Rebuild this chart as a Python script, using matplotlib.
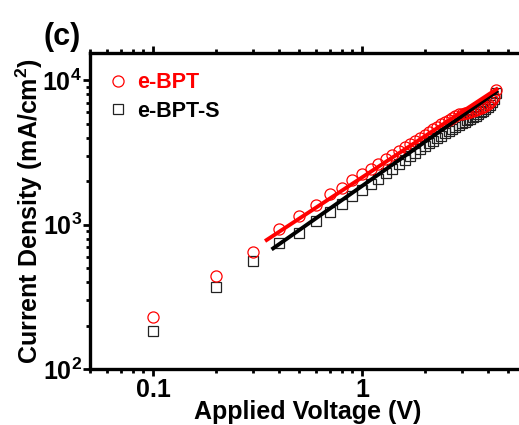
import numpy as np
import matplotlib
matplotlib.use("Agg")
import matplotlib.pyplot as plt
from matplotlib.ticker import FixedLocator, LogLocator, NullFormatter

# measured J-V points (V in volts, J in mA/cm^2)
voltage = [0.1, 0.2, 0.3, 0.4, 0.5, 0.6, 0.7, 0.8, 0.9, 1.0,
           1.1, 1.2, 1.3, 1.4, 1.5, 1.6, 1.7, 1.8, 1.9, 2.0,
           2.1, 2.2, 2.3, 2.4, 2.5, 2.6, 2.7, 2.8, 2.9, 3.0,
           3.1, 3.2, 3.3, 3.4, 3.5, 3.6, 3.7, 3.8, 3.9, 4.0,
           4.1, 4.2, 4.3, 4.4]
j_ebpt = [231, 443, 649, 931, 1150, 1371, 1633, 1790, 2040, 2248,
          2440, 2640, 2840, 3040, 3250, 3440, 3630, 3820, 4010, 4200,
          4390, 4580, 4770, 4960, 5150, 5320, 5490, 5660, 5830, 5880,
          5900, 5950, 6020, 6100, 6180, 6280, 6400, 6530, 6680, 6850,
          7050, 7300, 7650, 8550]
j_ebpt_s = [184, 373, 565, 745, 880, 1060, 1230, 1400, 1570, 1740,
            1915, 2090, 2265, 2445, 2620, 2800, 2975, 3150, 3330, 3500,
            3660, 3820, 3980, 4140, 4300, 4450, 4600, 4750, 4890, 5020,
            5150, 5280, 5420, 5560, 5700, 5850, 6000, 6160, 6330, 6520,
            6750, 7050, 7450, 8100]

# linear fits drawn on the log-log plot (end points)
fit_v_ebpt = [0.35, 4.41]
fit_j_ebpt = [785, 8670]
fit_v_ebpt_s = [0.376, 4.41]
fit_j_ebpt_s = [687, 8340]

font = "Liberation Sans"
plt.rcParams["font.family"] = [font, "DejaVu Sans"]
plt.rcParams["font.weight"] = "bold"
plt.rcParams["mathtext.fontset"] = "custom"
plt.rcParams["mathtext.rm"] = font + ":bold"
plt.rcParams["mathtext.bf"] = font + ":bold"

fig = plt.figure(figsize=(5.19, 4.25), dpi=100)
ax = fig.add_axes([0.1736, 0.131, 0.837, 0.744])

ax.plot(voltage, j_ebpt, "o", ms=8, mfc="none", mec="#ff0000", mew=0.9,
        label="e-BPT", zorder=3)
ax.plot(voltage, j_ebpt_s, "s", ms=6.8, mfc="none", mec="#222222", mew=0.9,
        label="e-BPT-S", zorder=2)
ax.plot(fit_v_ebpt_s, fit_j_ebpt_s, "-", color="black", lw=2.8, zorder=4)
ax.plot(fit_v_ebpt, fit_j_ebpt, "-", color="#ff0000", lw=2.8, zorder=5)

ax.set_xscale("log")
ax.set_yscale("log")
ax.set_xlim(0.05, 6)
ax.set_ylim(100, 15400)

ax.xaxis.set_major_locator(FixedLocator([0.1, 1]))
ax.set_xticklabels(["0.1", "1"])
ax.xaxis.set_minor_locator(LogLocator(base=10, subs=np.arange(2, 10)))
ax.xaxis.set_minor_formatter(NullFormatter())
ax.yaxis.set_major_locator(FixedLocator([100, 1000, 10000]))
ax.set_yticklabels([r"$\mathbf{10^{2}}$", r"$\mathbf{10^{3}}$", r"$\mathbf{10^{4}}$"])
ax.yaxis.set_minor_locator(LogLocator(base=10, subs=np.arange(2, 10)))
ax.yaxis.set_minor_formatter(NullFormatter())

ax.tick_params(which="both", direction="out", top=True, right=False, width=2)
ax.tick_params(which="major", length=5, labelsize=18, pad=1)
ax.tick_params(which="minor", length=3)
for s in ax.spines.values():
    s.set_linewidth(2.4)

ax.set_xlabel("Applied Voltage (V)", fontsize=18, fontweight="bold", labelpad=-1)
ax.set_ylabel("Current Density (mA/cm$^2$)", fontsize=18, fontweight="bold", labelpad=-2)

leg = ax.legend(loc="upper left", bbox_to_anchor=(0.044, 0.94), frameon=False,
                fontsize=15.5, handlelength=0.8, handletextpad=0.5,
                labelspacing=0.35, borderaxespad=0, borderpad=0)
leg.get_texts()[0].set_color("#ff0000")
leg.get_texts()[1].set_color("black")

fig.text(0.083, 0.914, "(c)", fontsize=22, fontweight="bold", va="center")

plt.savefig("out.png", dpi=100)
